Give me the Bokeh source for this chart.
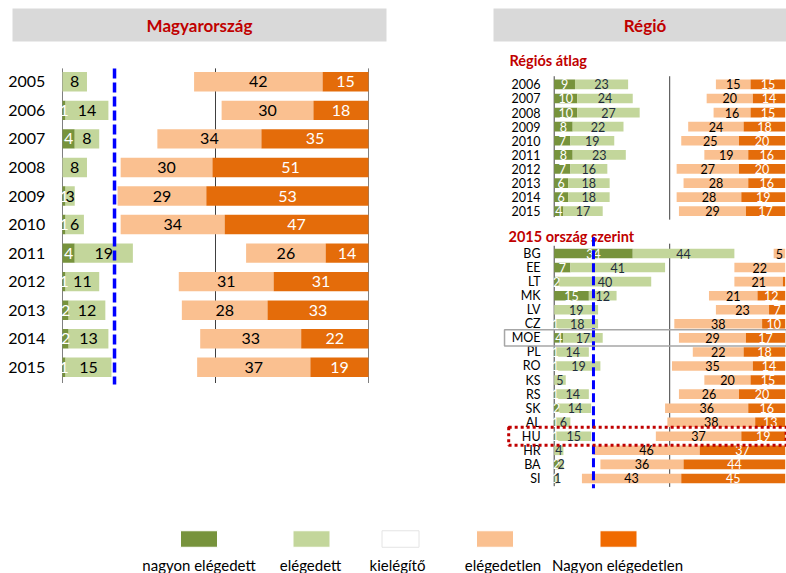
import numpy as np
from bokeh.plotting import figure
from bokeh.models import ColumnDataSource, Range1d
from bokeh.core.properties import value
from bokeh.embed import file_html
from bokeh.resources import INLINE

# ---------------- data ----------------
hu_years = ["2005", "2006", "2007", "2008", "2009", "2010", "2011", "2012", "2013", "2014", "2015"]
hu_very_sat = [0, 1, 4, 0, 1, 1, 4, 1, 2, 2, 1]
hu_sat = [8, 14, 8, 8, 3, 6, 19, 11, 12, 13, 15]
hu_dissat = [42, 30, 34, 30, 29, 34, 26, 31, 28, 33, 37]
hu_very_dissat = [15, 18, 35, 51, 53, 47, 14, 31, 33, 22, 19]

reg_years = ["2006", "2007", "2008", "2009", "2010", "2011", "2012", "2013", "2014", "2015"]
reg_very_sat = [9, 10, 10, 8, 7, 8, 7, 6, 6, 4]
reg_sat = [23, 24, 27, 22, 19, 23, 16, 18, 18, 17]
reg_dissat = [15, 20, 16, 24, 25, 19, 27, 28, 28, 29]
reg_very_dissat = [15, 14, 15, 18, 20, 16, 20, 16, 19, 17]

countries = ["BG", "EE", "LT", "MK", "LV", "CZ", "MOE", "PL", "RO", "KS",
             "RS", "SK", "AL", "HU", "HR", "BA", "SI"]
c_very_sat = [34, 7, 2, 15, 0, 1, 4, 1, 1, 0, 1, 2, 1, 1, 0, 2, 1]
c_sat = [44, 41, 40, 12, 19, 18, 17, 14, 19, 5, 14, 14, 6, 15, 4, 2, 1]
c_dissat = [5, 22, 21, 21, 23, 38, 29, 22, 35, 20, 26, 36, 38, 37, 46, 36, 43]
c_very_dissat = [0, 0, 1, 12, 7, 10, 17, 18, 14, 15, 20, 16, 13, 19, 37, 44, 45]

benchmark = 17          # blue dashed reference line (%)
midline = 50
full = 100
highlight_gray = "MOE"
highlight_red = "HU"

legend_labels = ["nagyon elégedett", "elégedett", "kielégítő", "elégedetlen", "Nagyon elégedetlen"]

title_left = "Magyarország"
title_right = "Régió"
sub_avg = "Régiós átlag"
sub_cty = "2015 ország szerint"

# ---------------- style / layout ----------------
C_VS, C_S, C_N, C_D, C_VD = "#77933C", "#C3D69B", "#FFFFFF", "#FAC090", "#E46C0A"
legend_colors = [C_VS, C_S, C_N, C_D, "#F06A00"]
RED = "#C00000"
FONT = value("Lato")

W, H = 786, 573


def xr(zero_px, ppu):
    return Range1d(start=-zero_px / ppu, end=(W - zero_px) / ppu)


def yr(row0_px, spacing):
    return Range1d(start=(H - row0_px) / spacing, end=-row0_px / spacing)


p = figure(width=W, height=H, title=None, toolbar_location=None,
           output_backend="svg", x_axis_type=None, y_axis_type=None,
           x_range=Range1d(0, W), y_range=Range1d(H, 0), min_border=0)
p.outline_line_color = None
p.grid.visible = False
p.background_fill_color = "white"

p.extra_x_ranges = {"xL": xr(62, 3.06), "xR": xr(553.7, 2.31)}
p.extra_y_ranges = {"yL": yr(81.3, 28.55), "yA": yr(83.9, 14.09), "yC": yr(253.0, 14.06)}

# ---------------- headers ----------------
p.quad(left=[12, 493], right=[386, 786], top=[8, 8], bottom=[41, 41],
       fill_color="#D9D9D9", line_color=None)
p.text(x=[199], y=[25], text=[title_left], text_font=FONT, text_font_style="bold",
       text_font_size="17px", text_color=RED, text_align="center", text_baseline="middle")
p.text(x=[644.5], y=[25], text=[title_right], text_font=FONT, text_font_style="bold",
       text_font_size="17px", text_color=RED, text_align="center", text_baseline="middle")
p.text(x=[509], y=[60], text=[sub_avg], text_font=FONT, text_font_style="bold",
       text_font_size="14.5px", text_color=RED, text_align="left", text_baseline="middle")
p.text(x=[508], y=[236], text=[sub_cty], text_font=FONT, text_font_style="bold",
       text_font_size="14.5px", text_color=RED, text_align="left", text_baseline="middle")


def panel(cats, vs, s, d, vd, xname, yname, bar_h, fs, cat_x, sat_txt, lines, vd_min=1):
    vs, s, d, vd = (np.array(a, dtype=float) for a in (vs, s, d, vd))
    rows = np.arange(len(cats))
    for xv, y0, y1, col in lines:
        p.segment(x0=[xv], x1=[xv], y0=[y0], y1=[y1], line_color=col, line_width=1,
                  x_range_name=xname, y_range_name=yname)
    segs = [
        (np.zeros_like(vs), vs, C_VS, vs, "white", 1),
        (vs, vs + s, C_S, s, sat_txt, 1),
        (full - vd - d, full - vd, C_D, d, "black", 1),
        (full - vd, np.full_like(vd, full), C_VD, vd, "white", vd_min),
    ]
    for left, right, col, vals, tcol, mn in segs:
        src = ColumnDataSource(dict(y=rows, l=left, r=right))
        p.hbar(y="y", left="l", right="r", height=bar_h, fill_color=col, line_color=None,
               source=src, x_range_name=xname, y_range_name=yname)
    for left, right, col, vals, tcol, mn in segs:
        m = vals >= mn
        src = ColumnDataSource(dict(y=rows[m], x=((left + right) / 2)[m],
                                    t=[str(int(v)) for v in vals[m]]))
        p.text(x="x", y="y", text="t", source=src, text_font=FONT, text_font_size=fs,
               text_color=tcol, text_align="center", text_baseline="middle",
               x_range_name=xname, y_range_name=yname)
    src = ColumnDataSource(dict(y=rows, x=np.full(len(cats), cat_x), t=cats))
    p.text(x="x", y="y", text="t", source=src, text_font=FONT, text_font_size=fs,
           text_color="black", text_align="right", text_baseline="middle",
           x_range_name=xname, y_range_name=yname)


nL = len(hu_years)
panel(hu_years, hu_very_sat, hu_sat, hu_dissat, hu_very_dissat, "xL", "yL", 0.68, "16px",
      -5.6, "black",
      [(0, -0.47, nL - 0.45, "#808080"), (midline, -0.47, nL - 0.45, "#404040"),
       (full, -0.47, nL - 0.45, "#808080")])

nA = len(reg_years)
panel(reg_years, reg_very_sat, reg_sat, reg_dissat, reg_very_dissat, "xR", "yA", 0.69, "12.5px",
      -5.9, "#1F2D3D",
      [(0, -0.58, nA - 0.58, "#404040"), (midline, -0.58, nA - 0.4, "#404040")])

nC = len(countries)
panel(countries, c_very_sat, c_sat, c_dissat, c_very_dissat, "xR", "yC", 0.68, "12.5px",
      -5.9, "#1F2D3D",
      [(0, -0.55, nC - 0.45, "#404040"), (midline, -0.7, nC - 0.4, "#404040")], vd_min=2)

# blue dashed benchmark lines
p.segment(x0=[benchmark], x1=[benchmark], y0=[-0.47], y1=[nL - 0.4], line_color="#0000FF",
          line_width=3.5, line_dash="10 4", x_range_name="xL", y_range_name="yL")
p.segment(x0=[benchmark], x1=[benchmark], y0=[-1.16], y1=[nC - 0.3], line_color="#0000FF",
          line_width=3, line_dash="9 4", x_range_name="xR", y_range_name="yC")

# highlight boxes
ig = countries.index(highlight_gray)
p.quad(left=[-21.5], right=[100.6], top=[ig - 0.58], bottom=[ig + 0.58], fill_color=None,
       line_color="#A6A6A6", line_width=1.5, x_range_name="xR", y_range_name="yC")
ir = countries.index(highlight_red)
p.quad(left=[-19.7], right=[100.4], top=[ir - 0.64], bottom=[ir + 0.64], fill_color=None,
       line_color=RED, line_width=3, line_dash="3 3", x_range_name="xR", y_range_name="yC")

# legend
leg_x = [198.5, 311, 400, 494.5, 618]
p.rect(x=leg_x, y=[538.5] * 5, width=37, height=16.5, fill_color=legend_colors,
       line_color=["#FFFFFF", "#FFFFFF", "#E4E4E4", "#FFFFFF", "#FFFFFF"])
lab_x = [198.5, 310, 397, 502.5, 617]
p.text(x=lab_x, y=[564] * 5, text=legend_labels, text_font=FONT, text_font_size="15px",
       text_color="black", text_align="center", text_baseline="middle")

open("out.html", "w").write(file_html(p, INLINE))
